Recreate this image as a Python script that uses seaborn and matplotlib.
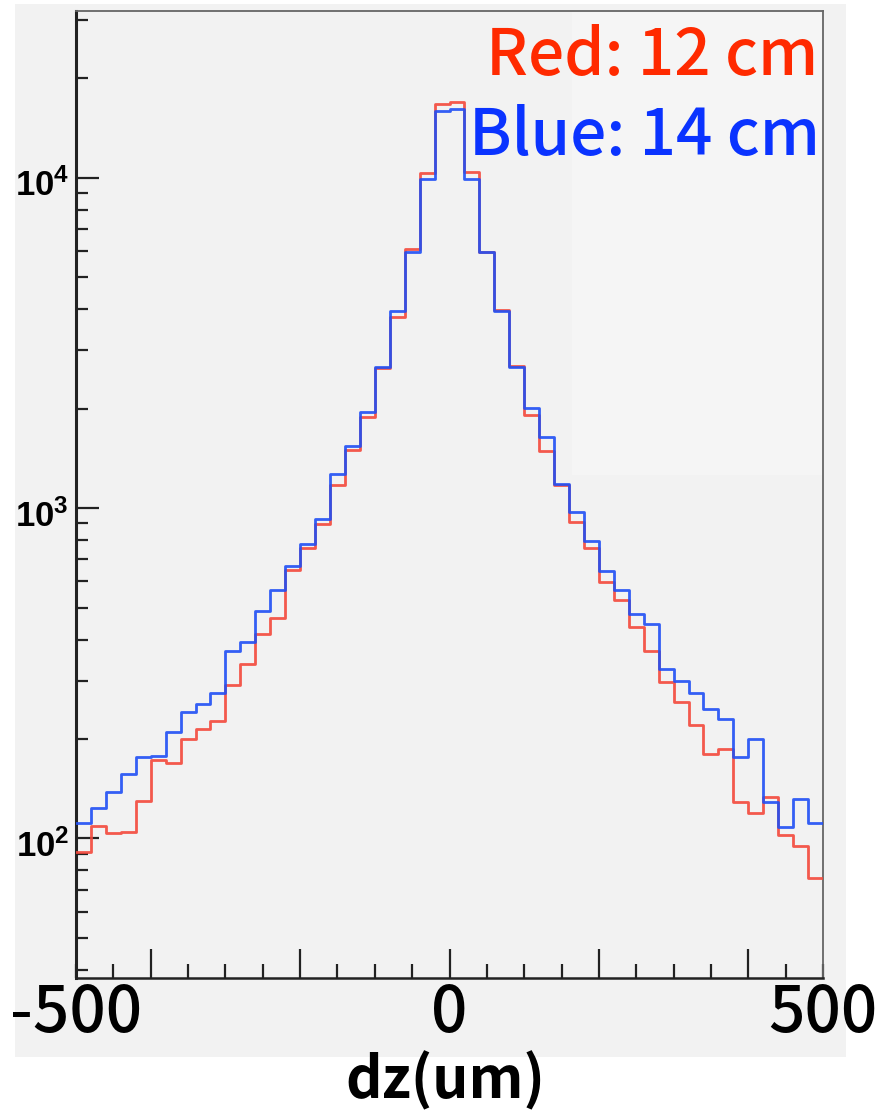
import numpy as np
import pandas as pd
import matplotlib
matplotlib.use("Agg")
import matplotlib.pyplot as plt
import matplotlib.transforms as mtransforms
import seaborn as sns
from matplotlib.ticker import FixedLocator, MultipleLocator, NullFormatter, LogLocator
from matplotlib.patches import Rectangle

# ---------------- data ----------------
bin_edges = list(np.linspace(-500, 500, 51))          # 50 bins of 20 um
bin_centers = [0.5 * (a + b) for a, b in zip(bin_edges[:-1], bin_edges[1:])]

red_counts = [91, 109, 103.5, 104.7, 130, 172.6, 168.7, 200, 214, 226.5,
              292, 337, 415, 464, 649, 755, 895, 1174, 1498, 1882,
              2660, 3780, 6080, 10350, 16680, 16920, 10400, 5960, 3976, 2697,
              1912, 1491, 1174, 909, 758, 598, 527, 437, 369, 297,
              258, 220, 180, 186, 128.5, 119.5, 133.6, 102.3, 94.8, 76]

blue_counts = [111.4, 123.8, 138, 156.2, 176.2, 177.9, 209.4, 240.7, 254.5, 276,
               369, 394.5, 488.7, 564.6, 667.4, 778, 928, 1265, 1544, 1949,
               2677, 3940, 5943, 9910, 15920, 16110, 9910, 5943, 3956, 2677,
               2004, 1643, 1182, 974, 795, 645, 564.6, 476.6, 445.5, 324.8,
               299.5, 274.8, 245.7, 230.1, 176.6, 199.4, 128.5, 108, 131.3, 111.3]

series_labels = ["Red: 12 cm", "Blue: 14 cm"]
x_label = "dz(um)"
x_label_ticks = [-500, 0, 500]
y_major_ticks = [100, 1000, 10000]
y_tick_labels = [r"$\mathbf{10^{2}}$", r"$\mathbf{10^{3}}$", r"$\mathbf{10^{4}}$"]

df = pd.DataFrame({"dz": bin_centers, "red": red_counts, "blue": blue_counts})

# ---------------- style ----------------
TEXT_FONT = ["Noto Sans CJK JP", "DejaVu Sans"]
plt.rcParams["font.family"] = TEXT_FONT
plt.rcParams["mathtext.fontset"] = "custom"
plt.rcParams["mathtext.bf"] = "Liberation Sans:bold"
plt.rcParams["mathtext.rm"] = "Liberation Sans"

RED_LINE = "#f4483b"
BLUE_LINE = "#1f4ff5"
RED_TEXT = "#ff2a00"
BLUE_TEXT = "#0a33ff"
PANEL = "#f2f2f2"

fig = plt.figure(figsize=(8.81, 11.10), dpi=100)
fig.patch.set_facecolor("white")
fig.patches.append(Rectangle((15 / 881, 1 - 1057 / 1110), (846 - 15) / 881, (1057 - 4) / 1110,
                             transform=fig.transFigure, facecolor=PANEL, edgecolor="none", zorder=-10))

ax = fig.add_axes([76 / 881, 1 - 978 / 1110, (823 - 76) / 881, (978 - 11) / 1110])
ax.set_facecolor(PANEL)
# lighter pasted box at the top right
ax.add_patch(Rectangle((0.664, 0.52), 0.336, 0.48, transform=ax.transAxes,
                       facecolor="#f5f5f5", edgecolor="none", zorder=0))

sns.histplot(data=df, x="dz", weights="red", bins=bin_edges, element="step", fill=False,
             color=RED_LINE, linewidth=2.0, alpha=0.9, ax=ax, zorder=3)
sns.histplot(data=df, x="dz", weights="blue", bins=bin_edges, element="step", fill=False,
             color=BLUE_LINE, linewidth=2.0, alpha=0.9, ax=ax, zorder=4)

ax.set_yscale("log")
ax.set_xlim(-500, 500)
ax.set_ylim(37.8, 31970)
ax.set_ylabel("")

# y ticks
ax.yaxis.set_major_locator(FixedLocator(y_major_ticks))
ax.set_yticklabels(y_tick_labels)
ax.yaxis.set_minor_locator(LogLocator(base=10, subs=np.arange(2, 10)))
ax.yaxis.set_minor_formatter(NullFormatter())
ax.tick_params(axis="y", which="major", direction="in", length=16.5, width=1.6,
               colors="#222222", labelsize=25, pad=5, labelcolor="black")
ax.tick_params(axis="y", which="minor", direction="in", length=8.5, width=1.6, colors="#222222")
shift = mtransforms.ScaledTranslation(0, -5 / 100, fig.dpi_scale_trans)
for lab in ax.get_yticklabels():
    lab.set_transform(lab.get_transform() + shift)

# x ticks (marks only), labels via secondary axis
ax.xaxis.set_major_locator(FixedLocator([-400, -200, 0, 200, 400]))
ax.xaxis.set_major_formatter(NullFormatter())
ax.xaxis.set_minor_locator(MultipleLocator(50))
ax.tick_params(axis="x", which="major", direction="in", length=21, width=1.6, colors="#222222")
ax.tick_params(axis="x", which="minor", direction="in", length=10, width=1.6, colors="#222222")

sec = ax.secondary_xaxis("bottom")
sec.set_xticks(x_label_ticks)
sec.set_xticklabels([str(v) for v in x_label_ticks], fontweight="medium", family=TEXT_FONT)
sec.tick_params(axis="x", length=0, labelsize=46, pad=2)
sec.spines["bottom"].set_visible(False)

ax.set_xlabel(x_label, fontsize=41, fontweight="bold", family=TEXT_FONT)
ax.xaxis.set_label_coords((445 - 76) / 747, (978 - 1098) / 967)
ax.xaxis.label.set_va("baseline")

for side in ["left", "bottom"]:
    ax.spines[side].set_color("#222222")
ax.spines["left"].set_linewidth(2.2)
ax.spines["bottom"].set_linewidth(1.8)
for side in ["top", "right"]:
    ax.spines[side].set_color("#666666")
    ax.spines[side].set_linewidth(1.3)

# series labels
fig.text(818 / 881, 1 - 75 / 1110, series_labels[0], color=RED_TEXT, fontsize=46,
         ha="right", va="baseline", family=TEXT_FONT, fontweight="medium")
fig.text(820 / 881, 1 - 155 / 1110, series_labels[1], color=BLUE_TEXT, fontsize=46,
         ha="right", va="baseline", family=TEXT_FONT, fontweight="medium")

fig.savefig("out.png", dpi=100, facecolor="white")
